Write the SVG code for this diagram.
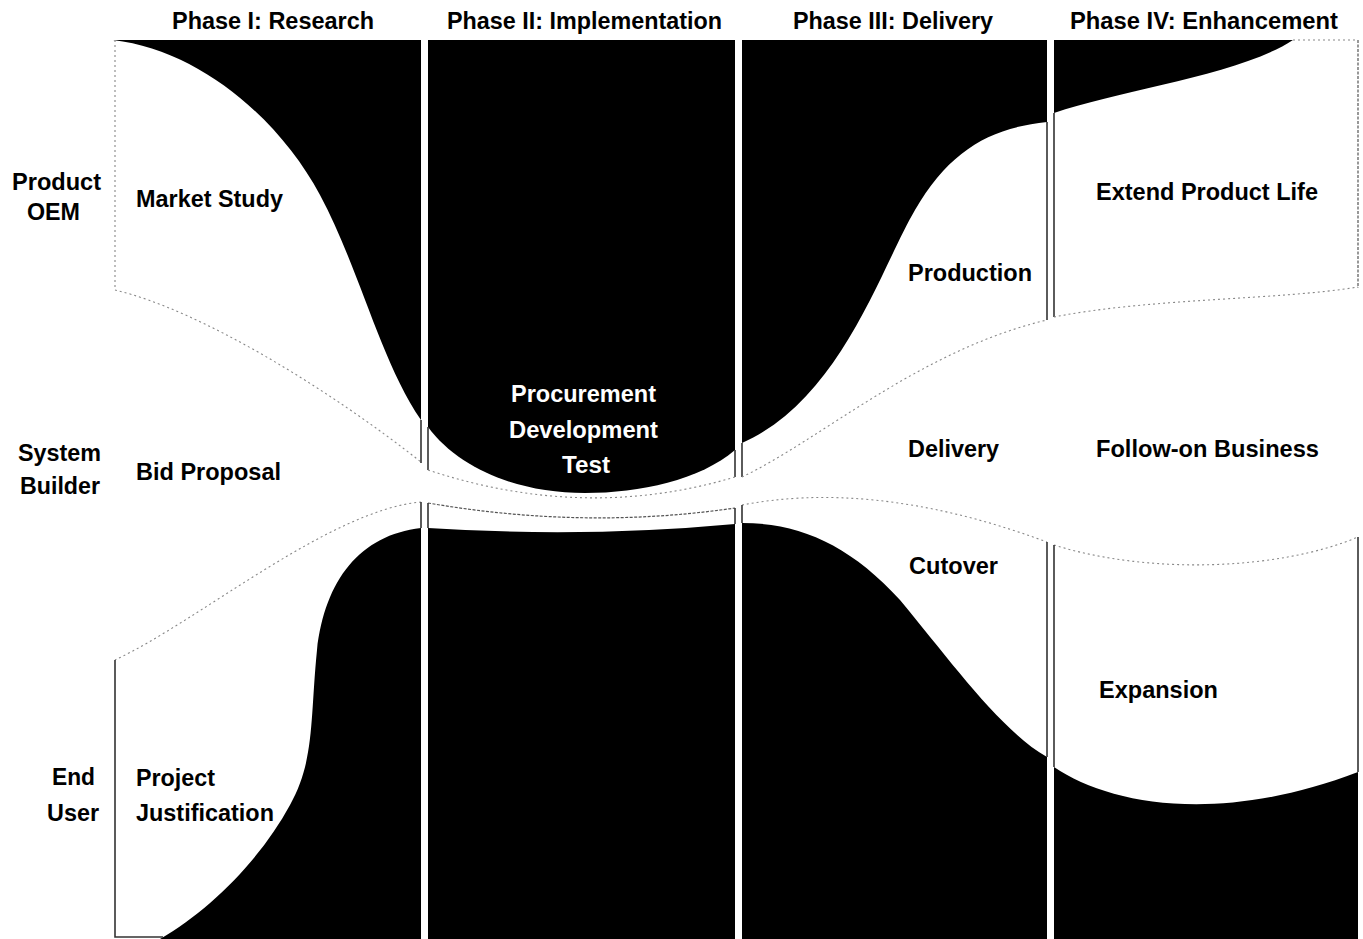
<svg xmlns="http://www.w3.org/2000/svg" width="1363" height="939" viewBox="0 0 1363 939">
<style>
text{font-family:"Liberation Sans",Arial,Helvetica,sans-serif;font-weight:bold;font-size:23.5px;fill:#000}
.w{fill:#fff}
.blk{fill:#000;stroke:none}
.edge{fill:none;stroke:#333;stroke-width:1.6}
.dot{fill:none;stroke:#888;stroke-width:1.1;stroke-dasharray:2 3}
.dk{fill:none;stroke:#555;stroke-width:1.2;stroke-dasharray:3 1.5}
</style>
<rect width="1363" height="939" fill="#fff"/>
<g id="headers">
<text x="172" y="29" textLength="202" lengthAdjust="spacingAndGlyphs">Phase I: Research</text>
<text x="447" y="29" textLength="275" lengthAdjust="spacingAndGlyphs">Phase II: Implementation</text>
<text x="793" y="29" textLength="200" lengthAdjust="spacingAndGlyphs">Phase III: Delivery</text>
<text x="1070" y="29" textLength="268" lengthAdjust="spacingAndGlyphs">Phase IV: Enhancement</text>
</g>
<g id="row-labels">
<text x="12" y="190" textLength="89" lengthAdjust="spacingAndGlyphs">Product</text>
<text x="27" y="220" textLength="53" lengthAdjust="spacingAndGlyphs">OEM</text>
<text x="18" y="461" textLength="83" lengthAdjust="spacingAndGlyphs">System</text>
<text x="20" y="494" textLength="80" lengthAdjust="spacingAndGlyphs">Builder</text>
<text x="52" y="785" textLength="43" lengthAdjust="spacingAndGlyphs">End</text>
<text x="47" y="821" textLength="52" lengthAdjust="spacingAndGlyphs">User</text>
</g>
<g id="black-fields">
<path class="blk" d="M113,40 C200,50 280,120 320,195 C360,270 380,360 421,420 L421,40 Z"/>
<path class="blk" d="M428,40 L735,40 L735,450 C700,480 640,493 585,493 C520,493 460,470 428,427 Z"/>
<path class="blk" d="M742,40 L1047,40 L1047,122 C990,128 950,150 915,210 C880,270 840,400 742,443 Z"/>
<path class="blk" d="M1054,40 L1293,40 C1240,75 1120,90 1054,113 Z"/>
<path class="blk" d="M421,528 C360,535 325,580 317,650 C310,720 315,760 290,805 C260,860 210,910 160,939 L421,939 Z"/>
<path class="blk" d="M428,528 Q585,538 735,524 L735,939 L428,939 Z"/>
<path class="blk" d="M742,523 C800,523 850,545 900,600 C950,660 1000,730 1047,757 L1047,939 L742,939 Z"/>
<path class="blk" d="M1054,767 C1110,805 1220,825 1358,772 L1358,939 L1054,939 Z"/>
</g>
<g id="connectors">
<path class="dot" d="M115,40 V290"/>
<path class="dot" d="M115,290 C200,310 330,390 421,462"/>
<path class="edge" d="M421,420 V463"/>
<path class="dot" d="M421,502 C330,510 200,620 115,660"/>
<path class="edge" d="M421,502 V528"/>
<path class="edge" d="M115,660 V937 H163"/>
<path class="edge" d="M428,427 V470"/>
<path class="edge" d="M735,450 V477"/>
<path class="dot" d="M428,470 Q585,522 735,477"/>
<path class="dk" d="M428,503 Q585,530 735,508"/>
<path class="edge" d="M428,503 V528"/>
<path class="edge" d="M735,508 V524"/>
<path class="edge" d="M742,443 V477"/>
<path class="dot" d="M742,477 C820,440 920,350 1047,320"/>
<path class="edge" d="M1047,122 V320"/>
<path class="dot" d="M742,505 C820,490 920,495 1047,542"/>
<path class="edge" d="M742,505 V523"/>
<path class="edge" d="M1047,542 V757"/>
<path class="edge" d="M1054,113 V317"/>
<path class="dot" d="M1293,40 H1358"/>
<path class="dk" d="M1358,40 V288"/>
<path class="dot" d="M1054,317 C1150,298 1280,300 1358,287"/>
<path class="dot" d="M1054,545 C1150,575 1280,570 1358,537"/>
<path class="edge" d="M1054,545 V767"/>
<path class="edge" d="M1358,537 V772"/>
</g>
<g id="phase1">
<text x="136" y="207" textLength="147" lengthAdjust="spacingAndGlyphs">Market Study</text>
<text x="136" y="480" textLength="145" lengthAdjust="spacingAndGlyphs">Bid Proposal</text>
<text x="136" y="786" textLength="79" lengthAdjust="spacingAndGlyphs">Project</text>
<text x="136" y="821" textLength="138" lengthAdjust="spacingAndGlyphs">Justification</text>
</g>
<g id="phase2">
<text class="w" x="511" y="402" textLength="145" lengthAdjust="spacingAndGlyphs">Procurement</text>
<text class="w" x="509" y="438" textLength="149" lengthAdjust="spacingAndGlyphs">Development</text>
<text class="w" x="562" y="473" textLength="48" lengthAdjust="spacingAndGlyphs">Test</text>
</g>
<g id="phase3">
<text x="908" y="281" textLength="124" lengthAdjust="spacingAndGlyphs">Production</text>
<text x="908" y="457" textLength="91" lengthAdjust="spacingAndGlyphs">Delivery</text>
<text x="909" y="574" textLength="89" lengthAdjust="spacingAndGlyphs">Cutover</text>
</g>
<g id="phase4">
<text x="1096" y="200" textLength="222" lengthAdjust="spacingAndGlyphs">Extend Product Life</text>
<text x="1096" y="457" textLength="223" lengthAdjust="spacingAndGlyphs">Follow-on Business</text>
<text x="1099" y="698" textLength="119" lengthAdjust="spacingAndGlyphs">Expansion</text>
</g>
</svg>
